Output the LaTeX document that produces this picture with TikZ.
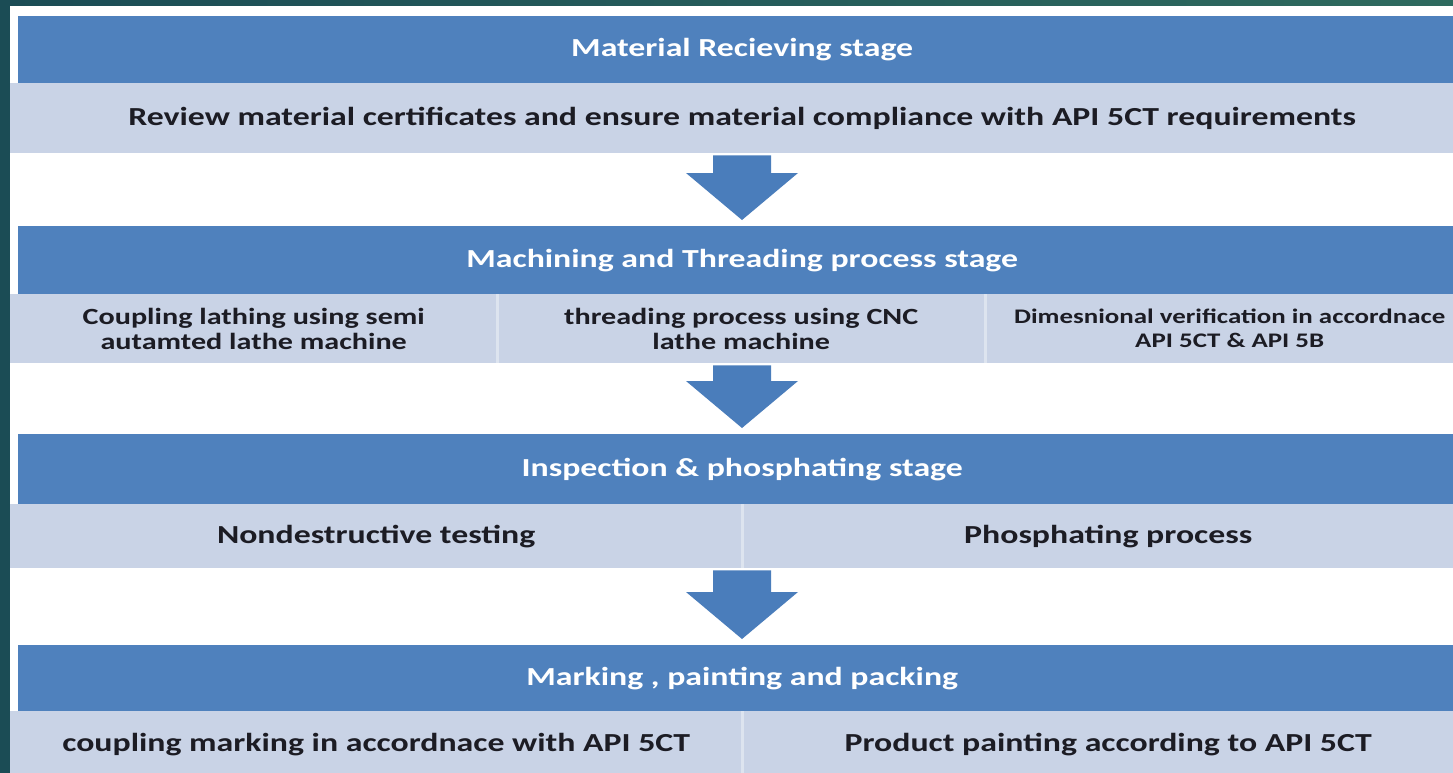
\documentclass[tikz,border=0pt]{standalone}
\usepackage{fontspec}
\setmainfont{Carlito}[FakeStretch=1.3]
\usetikzlibrary{calc}
\definecolor{hdrblue}{HTML}{4F81BD}
\definecolor{rowgray}{HTML}{C9D3E6}
\definecolor{divline}{HTML}{DDE4EF}
\definecolor{txtdark}{HTML}{1C1C24}
\definecolor{bgA}{HTML}{1B4C55}
\definecolor{bgB}{HTML}{2E6A5E}
\definecolor{arrowblue}{HTML}{4A7DBB}
\begin{document}
\begin{tikzpicture}[x=1pt,y=-1pt,
  header/.style={rectangle, fill=hdrblue, inner sep=0pt, minimum width=1448pt,
    anchor=north west, text=white, font=\bfseries\fontsize{26}{29}\selectfont},
  cell/.style={rectangle, fill=rowgray, inner sep=0pt, anchor=north west,
    text=txtdark, align=center, font=\bfseries\fontsize{26}{29}\selectfont},
  twolinecell/.style={cell, font=\bfseries\fontsize{23.2}{25.5}\selectfont},
  smallcell/.style={cell, font=\bfseries\fontsize{20.7}{24}\selectfont},
  divider/.style={draw=divline, line width=2.5pt},
  flowarrow/.style={fill=arrowblue}
]
\useasboundingbox (0,0) rectangle (1453,773);
\clip (0,0) rectangle (1453,773);
% background
\fill[left color=bgA, right color=bgB] (0,0) rectangle (1453,773);
\fill[white] (10,6) rectangle (1453,773);
\coordinate (ax) at (742,0);

% stage 1
\node[header, minimum height=67pt] (h1) at (18,16) {Material Recieving stage};
\node[cell, minimum width=1464pt, minimum height=70pt] (r1) at (10,83)
  {Review material certificates and ensure material compliance with API 5CT requirements};

% stage 2
\node[header, minimum height=68pt] (h2) at (18,226) {Machining and Threading process stage};
\node[twolinecell, minimum width=487pt, minimum height=69pt] (c21) at (10,294)
  {Coupling lathing using semi\\autamted lathe machine};
\node[twolinecell, minimum width=488pt, minimum height=69pt] (c22) at (497,294)
  {threading process using CNC\\lathe machine};
\node[smallcell, minimum width=489pt, minimum height=69pt] (c23) at (985,294)
  {Dimesnional verification in accordnace\\API 5CT \& API 5B};
\draw[divider] (c21.north east) -- (c21.south east);
\draw[divider] (c22.north east) -- (c22.south east);

% stage 3
\node[header, minimum height=70pt] (h3) at (18,434) {Inspection \& phosphating stage};
\node[cell, minimum width=732pt, minimum height=64pt] (c31) at (10,504) {Nondestructive testing};
\node[cell, minimum width=732pt, minimum height=64pt] (c32) at (742,504) {Phosphating process};
\draw[divider] (c31.north east) -- (c31.south east);

% stage 4
\node[header, minimum height=66pt] (h4) at (18,645) {Marking , painting and packing};
\node[cell, minimum width=732pt, minimum height=66pt] (c41) at (10,711) {coupling marking in accordnace with API 5CT};
\node[cell, minimum width=732pt, minimum height=66pt] (c42) at (742,711) {Product painting according to API 5CT};
\draw[divider] (c41.north east) -- (c41.south east);

% block arrows between stages
\foreach \from/\to in {r1/h2, c22/h3, c31/h4}{
  \fill[flowarrow] let \p1=(\from.south -| ax), \p2=(\to.north -| ax) in
    (\x1-29pt,\y1-2pt) -- (\x1+29pt,\y1-2pt) -- (\x1+29pt,\y2+53pt) --
    (\x1+56pt,\y2+53pt) -- (\x1,\y2+6pt) -- (\x1-56pt,\y2+53pt) --
    (\x1-29pt,\y2+53pt) -- cycle;
}
\end{tikzpicture}
\end{document}
